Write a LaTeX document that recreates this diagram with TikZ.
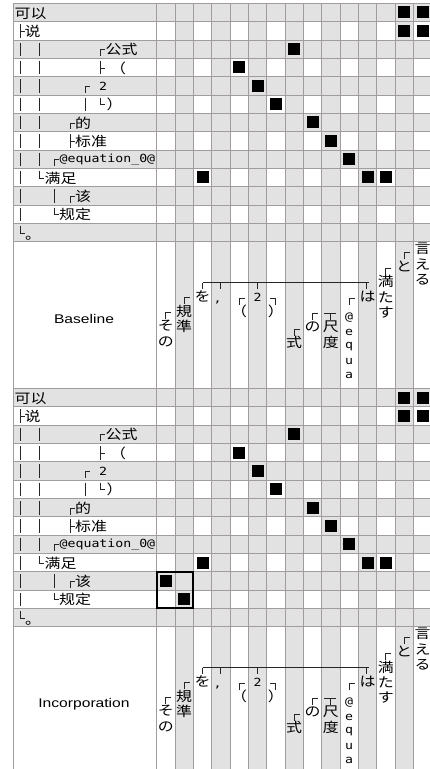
\documentclass[tikz,border=0pt]{standalone}
\usepackage{fontspec}
\usepackage{graphicx}
\setmainfont{Liberation Sans}
\newfontfamily\jpf{Noto Sans CJK JP}
\newfontfamily\zhf{Noto Sans CJK SC}
\newfontfamily\mof{DejaVu Sans Mono}
\newcommand\sx[1]{\scalebox{1.18}[1]{#1}}
\definecolor{gcell}{HTML}{E2E2E2}
\definecolor{gline}{HTML}{A39C9C}
\tikzset{
  zhtxt/.style={font=\zhf\fontsize{13.5}{13.5}\selectfont, inner sep=0pt, anchor=west},
  jptxt/.style={font=\jpf\fontsize{13.5}{13.5}\selectfont, inner sep=0pt},
  motxt/.style={font=\mof\fontsize{11.2}{11.2}\selectfont, inner sep=0pt},
  ttl/.style={font=\fontsize{12.6}{12.6}\selectfont, inner sep=0pt},
  tln/.style={draw=black!85, line width=0.8pt},
  gridln/.style={draw=gline, line width=0.8pt},
  blk/.style={fill=black},
}
% tree glyphs of the left column: x, row centre
\newcommand\myV[2]{\draw[tln] (#1,#2-6.5) -- (#1,#2+7);}
\newcommand\myT[2]{\draw[tln] (#1,#2-6.5) -- (#1,#2+7) (#1,#2+0.5) -- (#1+4.5,#2+0.5);}
\newcommand\myD[2]{\draw[tln] (#1+4.5,#2+0.5) -- (#1,#2+0.5) -- (#1,#2+7);}
\newcommand\myL[2]{\draw[tln] (#1,#2-6.5) -- (#1,#2+0.5) -- (#1+4.5,#2+0.5);}
% glyphs of the bottom area: x, y of the bar
\newcommand\myC[2]{\draw[tln] (#1+5.5,#2) -- (#1,#2) -- (#1,#2+6.5);}
\newcommand\myR[2]{\draw[tln] (#1-5.5,#2) -- (#1,#2) -- (#1,#2+6.5);}
\newcommand\myS[2]{\draw[tln] (#1,#2) -- (#1,#2+6.5);}
% vertical text: name, x, y of first glyph, glyph list
\newcommand\vtx[4]{\foreach \gly [count=\kk from 0] in {#4} {\node[jptxt] (#1-\kk) at (#2,#3+15.3*\kk) {\sx{\gly}};}}
\newcommand\panel[3]{%
\begin{scope}[shift={(0,#1)}]
\foreach \rw in {0,2,...,12} {\fill[gcell] (13.3,\rw*18.333) rectangle (431.7,\rw*18.333+18.333);}
\foreach \cl in {1,3,...,13} {\fill[gcell] (156.667+\cl*18.333,0) rectangle (156.667+\cl*18.333+18.333,385);}
\foreach \kk in {0,...,13} {\draw[gridln] (13.3,\kk*18.333) -- (431.7,\kk*18.333);}
\draw[gridln] (13.3,385) -- (431.7,385);
\foreach \cl in {0,...,15} {\draw[gridln] (156.667+\cl*18.333,0) -- (156.667+\cl*18.333,385);}
\draw[gridln] (13.3,0) -- (13.3,385);
\foreach \rw/\cl in {0/13,0/14,1/13,1/14,2/7,3/4,4/5,5/6,6/8,7/9,8/10,9/2,9/11,9/12}
  {\fill[blk] (156.667+\cl*18.333+3.17,\rw*18.333+3.17) rectangle ++(12,12);}
% left tree
\myT{20.7}{27.5}
\foreach \rw in {2,...,11} {\myV{20.7}{\rw*18.333+9.167}}
\myL{20.7}{229.17}
\foreach \rw in {2,...,8} {\myV{39.3}{\rw*18.333+9.167}}
\myL{39.3}{174.17}
\myD{54.3}{155.83} \myV{54.3}{192.5} \myL{54.3}{210.83}
\myD{70}{119.17} \myT{70}{137.5} \myD{70}{192.5}
\myD{85}{82.5} \myV{85}{100.83}
\myD{100}{45.83} \myT{100}{64.17} \myL{100}{100.83}
% left texts
\node[zhtxt] (#2-t0) at (14.5,9.9) {\sx{可以}};
\node[zhtxt] (#2-t1) at (24.5,28.2) {\sx{说}};
\node[zhtxt] (#2-t2) at (105.5,46.5) {\sx{公式}};
\node[zhtxt] (#2-t3) at (110,64.9) {\sx{（}};
\node[motxt] (#2-t4) at (103,83.2) {\sx{2}};
\node[zhtxt] (#2-t5) at (106.5,101.5) {\sx{）}};
\node[zhtxt] (#2-t6) at (75,119.9) {\sx{的}};
\node[zhtxt] (#2-t7) at (75,138.2) {\sx{标准}};
\node[motxt,anchor=west] (#2-t8) at (59.5,156.5) {\sx{@equation\_0@}};
\node[zhtxt] (#2-t9) at (44.5,174.9) {\sx{满足}};
\node[zhtxt] (#2-t10) at (75,193.2) {\sx{该}};
\node[zhtxt] (#2-t11) at (59,211.5) {\sx{规定}};
\node[zhtxt,anchor=base west] (#2-t12) at (25,236.4) {\sx{。}};
% bottom area
\node[ttl] (#2-title) at (84,315.7) {\scalebox{1.24}[1]{#3}};
\draw[tln] (202.5,279.33) -- (368.5,279.33);
\myS{202.5}{279.33} \myS{220.8}{279.33} \myS{257.5}{279.33} \myS{366.5}{279.33}
\myC{165.8}{309.33} \vtx{#2-v0}{165.8}{322.83}{そ,の}
\myC{184.2}{294.33} \vtx{#2-v1}{184.2}{307.83}{規,準}
\vtx{#2-v2}{202.5}{293.3}{を}
\node[motxt] (#2-v3) at (217.5,298.8) {\sx{,}};
\myC{239.2}{295.03} \vtx{#2-v4}{239.2}{308.53}{（}
\node[motxt] (#2-v5) at (257.5,294.33) {\sx{2}};
\myR{275.8}{295.03} \vtx{#2-v6}{275.8}{308.53}{）}
\myC{294.2}{326.03} \vtx{#2-v7}{294.2}{339.53}{式}
\myC{312.5}{310.03} \vtx{#2-v8}{312.5}{323.53}{の}
\draw[tln] (324.3,310.03) -- (335.5,310.03) (330.3,310.03) -- (330.3,316.53);
\vtx{#2-v9}{330.8}{323.53}{尺,度}
\myC{349.2}{295.03}
\foreach \gly [count=\kk from 0] in {@,e,q,u,a} {\node[motxt] (#2-v10-\kk) at (349.2,314.33+14.5*\kk) {\sx{\gly}};}
\vtx{#2-v11}{367.5}{293.33}{は}
\myC{385.8}{265.03} \vtx{#2-v12}{385.8}{278.53}{満,た,す}
\myC{404.2}{249.33} \vtx{#2-v13}{404.2}{262.83}{と}
\vtx{#2-v14}{422.5}{245.73}{言,え,る}
\end{scope}}
\begin{document}
\begin{tikzpicture}[x=1pt,y=-1pt]
\useasboundingbox (0,0) rectangle (430,769);
\clip (0,0) rectangle (430,769);
\fill[white] (0,0) rectangle (430,769);
\panel{3.3}{A}{Baseline}
\panel{388.33}{B}{Incorporation}
\begin{scope}[shift={(0,388.33)}]
\fill[blk] (156.667+3.17,10*18.333+3.17) rectangle ++(12,12);
\fill[blk] (156.667+18.333+3.17,11*18.333+3.17) rectangle ++(12,12);
\draw[line width=1.8pt] (156.667,183.33) rectangle (193.33,220);
\end{scope}
\end{tikzpicture}
\end{document}
